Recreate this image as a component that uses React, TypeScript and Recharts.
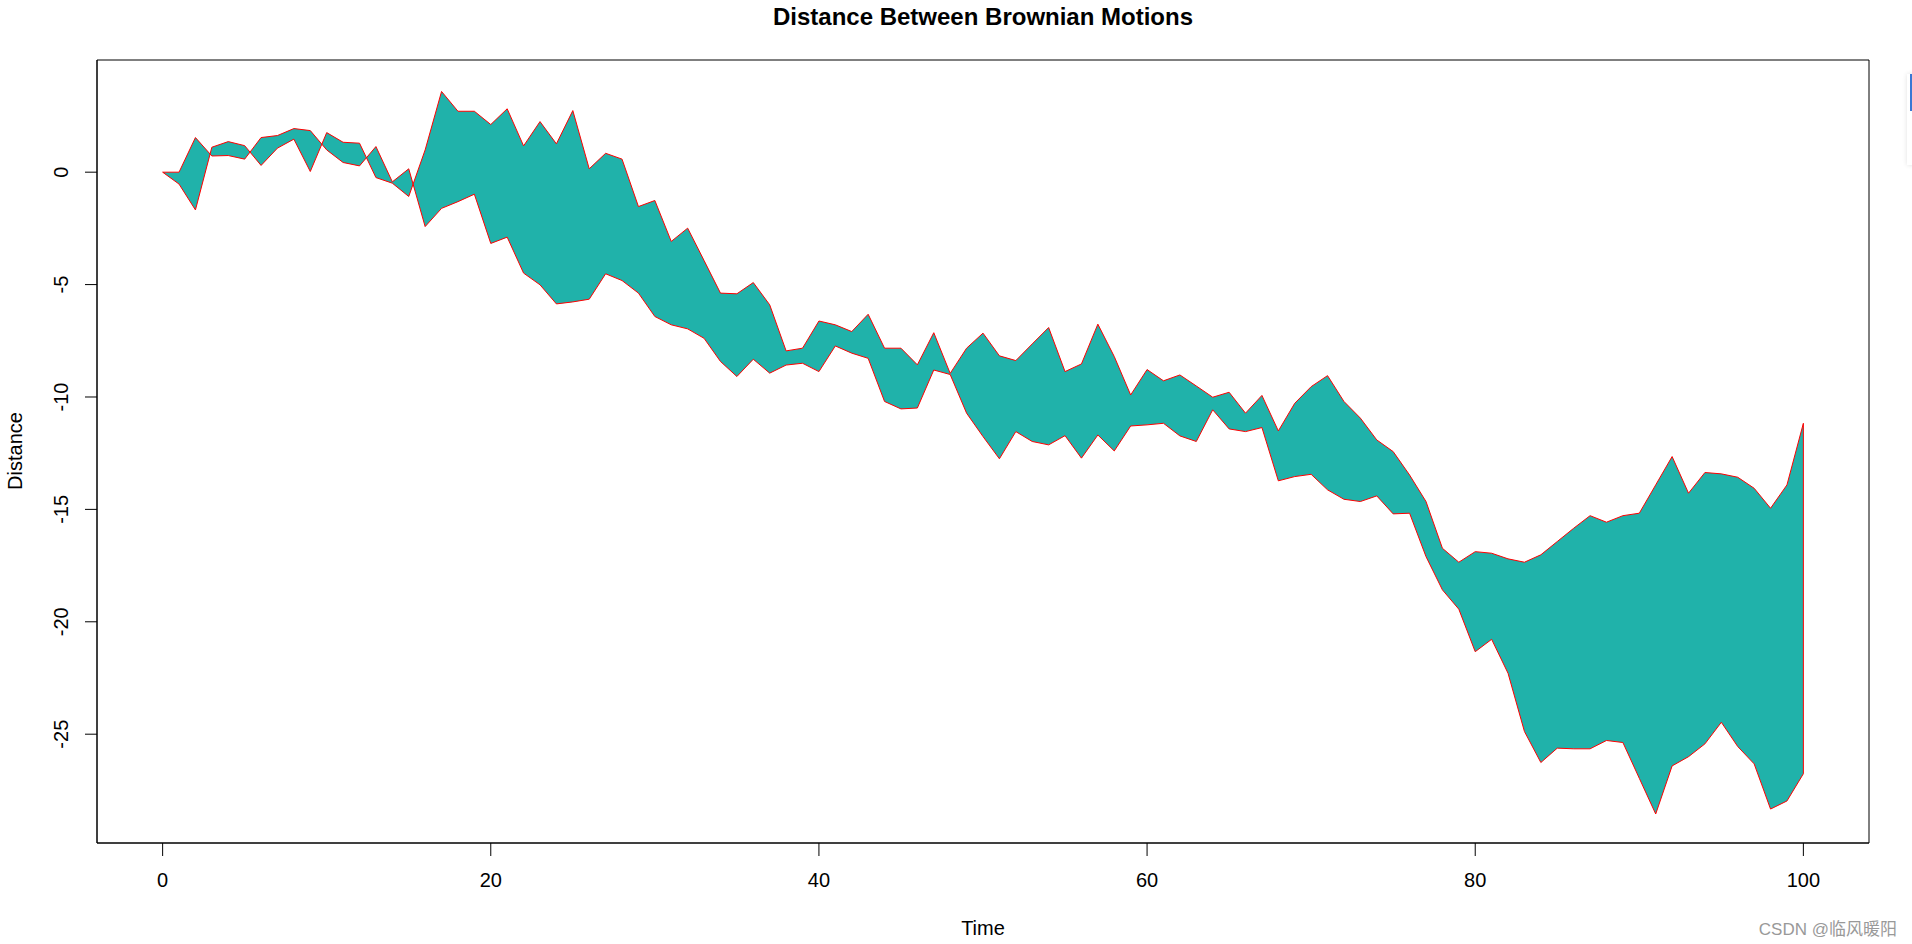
import { ComposedChart, Area, Line, XAxis, YAxis, ReferenceArea, ReferenceLine } from 'recharts';

const times = Array.from({ length: 101 }, (_, i) => i);

const seriesA = [
  0, 0, 1.54, 0.72, 0.74, 0.58, 1.54, 1.63, 1.94, 1.85,
  0.99, 0.43, 0.28, 1.14, -0.43, 0.15, -2.42, -1.61, -1.31, -0.98,
  -3.17, -2.89, -4.49, -5.01, -5.86, -5.77, -5.65, -4.52, -4.82, -5.38,
  -6.42, -6.79, -6.97, -7.39, -8.42, -9.09, -8.32, -8.94, -8.58, -8.5,
  -8.87, -7.73, -8.05, -8.28, -10.2, -10.53, -10.49, -8.8, -9.0, -10.72,
  -11.76, -12.75, -11.54, -11.98, -12.13, -11.72, -12.72, -11.69, -12.4, -11.29,
  -11.24, -11.17, -11.73, -11.98, -10.57, -11.42, -11.54, -11.36, -13.73, -13.54,
  -13.44, -14.13, -14.55, -14.65, -14.4, -15.2, -15.17, -17.1, -18.58, -19.44,
  -21.33, -20.78, -22.29, -24.88, -26.26, -25.62, -25.65, -25.65, -25.28, -25.37,
  -26.96, -28.55, -26.41, -26.0, -25.43, -24.47, -25.55, -26.32, -28.33, -27.97,
  -26.76,
];

const seriesB = [
  0, -0.53, -1.68, 1.11, 1.36, 1.18, 0.3, 1.07, 1.47, 0.03,
  1.76, 1.33, 1.29, -0.24, -0.49, -1.08, 0.99, 3.59, 2.71, 2.71,
  2.12, 2.82, 1.17, 2.25, 1.26, 2.74, 0.15, 0.84, 0.58, -1.53,
  -1.26, -3.08, -2.49, -3.93, -5.38, -5.41, -4.91, -5.9, -7.95, -7.83,
  -6.62, -6.79, -7.09, -6.32, -7.83, -7.83, -8.57, -7.14, -8.95, -7.83,
  -7.16, -8.17, -8.38, -7.64, -6.91, -8.87, -8.53, -6.76, -8.2, -9.91,
  -8.78, -9.28, -9.02, -9.51, -10.01, -9.79, -10.72, -9.93, -11.51, -10.28,
  -9.54, -9.05, -10.2, -10.94, -11.91, -12.43, -13.47, -14.65, -16.73, -17.35,
  -16.88, -16.95, -17.2, -17.35, -17.02, -16.43, -15.84, -15.28, -15.57, -15.28,
  -15.17, -13.91, -12.65, -14.28, -13.36, -13.42, -13.57, -14.06, -14.95, -13.91,
  -11.17,
];

const xTicks = [0, 20, 40, 60, 80, 100];
const yTicks = [0, -5, -10, -15, -20, -25];

const X_DOMAIN = [-4, 104];
const Y_DOMAIN = [-29.84, 4.99];

const FONT = '"Liberation Sans", Arial, sans-serif';

const data = times.map((t, i) => ({
  t,
  a: seriesA[i],
  b: seriesB[i],
  band: [seriesA[i], seriesB[i]],
}));

const last = data[data.length - 1];

const XTick = (props: any) => (
  <text x={props.x} y={887} textAnchor="middle" fontSize={20} fontFamily={FONT} fill="#000">
    {props.payload.value}
  </text>
);

const YTick = (props: any) => (
  <text
    x={68}
    y={props.y}
    textAnchor="middle"
    fontSize={20}
    fontFamily={FONT}
    fill="#000"
    transform={`rotate(-90, 68, ${props.y})`}
  >
    {props.payload.value}
  </text>
);

export default function App() {
  return (
    <div style={{ position: 'absolute', left: 0, top: 0, width: 1912, height: 944, background: '#fff', fontFamily: FONT }}>
      <ComposedChart width={1912} height={944} data={data} margin={{ top: 60, right: 43, bottom: 0, left: 0 }}>
        <XAxis
          dataKey="t"
          type="number"
          domain={X_DOMAIN}
          ticks={xTicks}
          allowDataOverflow
          height={101}
          tickSize={13}
          axisLine={{ stroke: '#000' }}
          tickLine={{ stroke: '#000' }}
          tick={XTick}
        />
        <YAxis
          type="number"
          domain={Y_DOMAIN}
          ticks={yTicks}
          allowDataOverflow
          width={97}
          tickSize={12}
          axisLine={{ stroke: '#000' }}
          tickLine={{ stroke: '#000' }}
          tick={YTick}
        />
        <Area
          dataKey="band"
          type="linear"
          stroke="none"
          fill="#20B2AA"
          fillOpacity={1}
          isAnimationActive={false}
        />
        <Line dataKey="a" type="linear" stroke="#FF0000" strokeWidth={1} dot={false} isAnimationActive={false} />
        <Line dataKey="b" type="linear" stroke="#FF0000" strokeWidth={1} dot={false} isAnimationActive={false} />
        <ReferenceLine
          segment={[{ x: last.t, y: last.a }, { x: last.t, y: last.b }]}
          stroke="#FF0000"
          strokeWidth={1}
        />
        <ReferenceArea
          x1={X_DOMAIN[0]}
          x2={X_DOMAIN[1]}
          y1={Y_DOMAIN[0]}
          y2={Y_DOMAIN[1]}
          fill="none"
          fillOpacity={0}
          stroke="#000"
          strokeWidth={1}
        />
      </ComposedChart>

      <div style={{ position: 'absolute', left: 0, width: 1966, top: 3, textAlign: 'center', fontSize: 24, fontWeight: 'bold', color: '#000' }}>
        Distance Between Brownian Motions
      </div>
      <div style={{ position: 'absolute', left: 0, width: 1966, top: 917, textAlign: 'center', fontSize: 20, color: '#000' }}>
        Time
      </div>
      <div
        style={{
          position: 'absolute',
          left: 15,
          top: 451,
          fontSize: 20,
          color: '#000',
          whiteSpace: 'nowrap',
          transform: 'translate(-50%, -50%) rotate(-90deg)',
        }}
      >
        Distance
      </div>
      <div style={{ position: 'absolute', right: 15, top: 915, fontSize: 17, color: '#999', whiteSpace: 'nowrap', fontFamily: '"Liberation Sans", Arial, "Noto Sans CJK SC", sans-serif' }}>
        CSDN @临风暖阳
      </div>
      <div style={{ position: 'absolute', left: 1907, top: 74, width: 12, height: 91, background: '#fff', boxShadow: '0 0 5px rgba(0,0,0,0.12)' }} />
      <div style={{ position: 'absolute', left: 1910, top: 74, width: 2, height: 37, background: '#3a78d4' }} />
    </div>
  );
}
